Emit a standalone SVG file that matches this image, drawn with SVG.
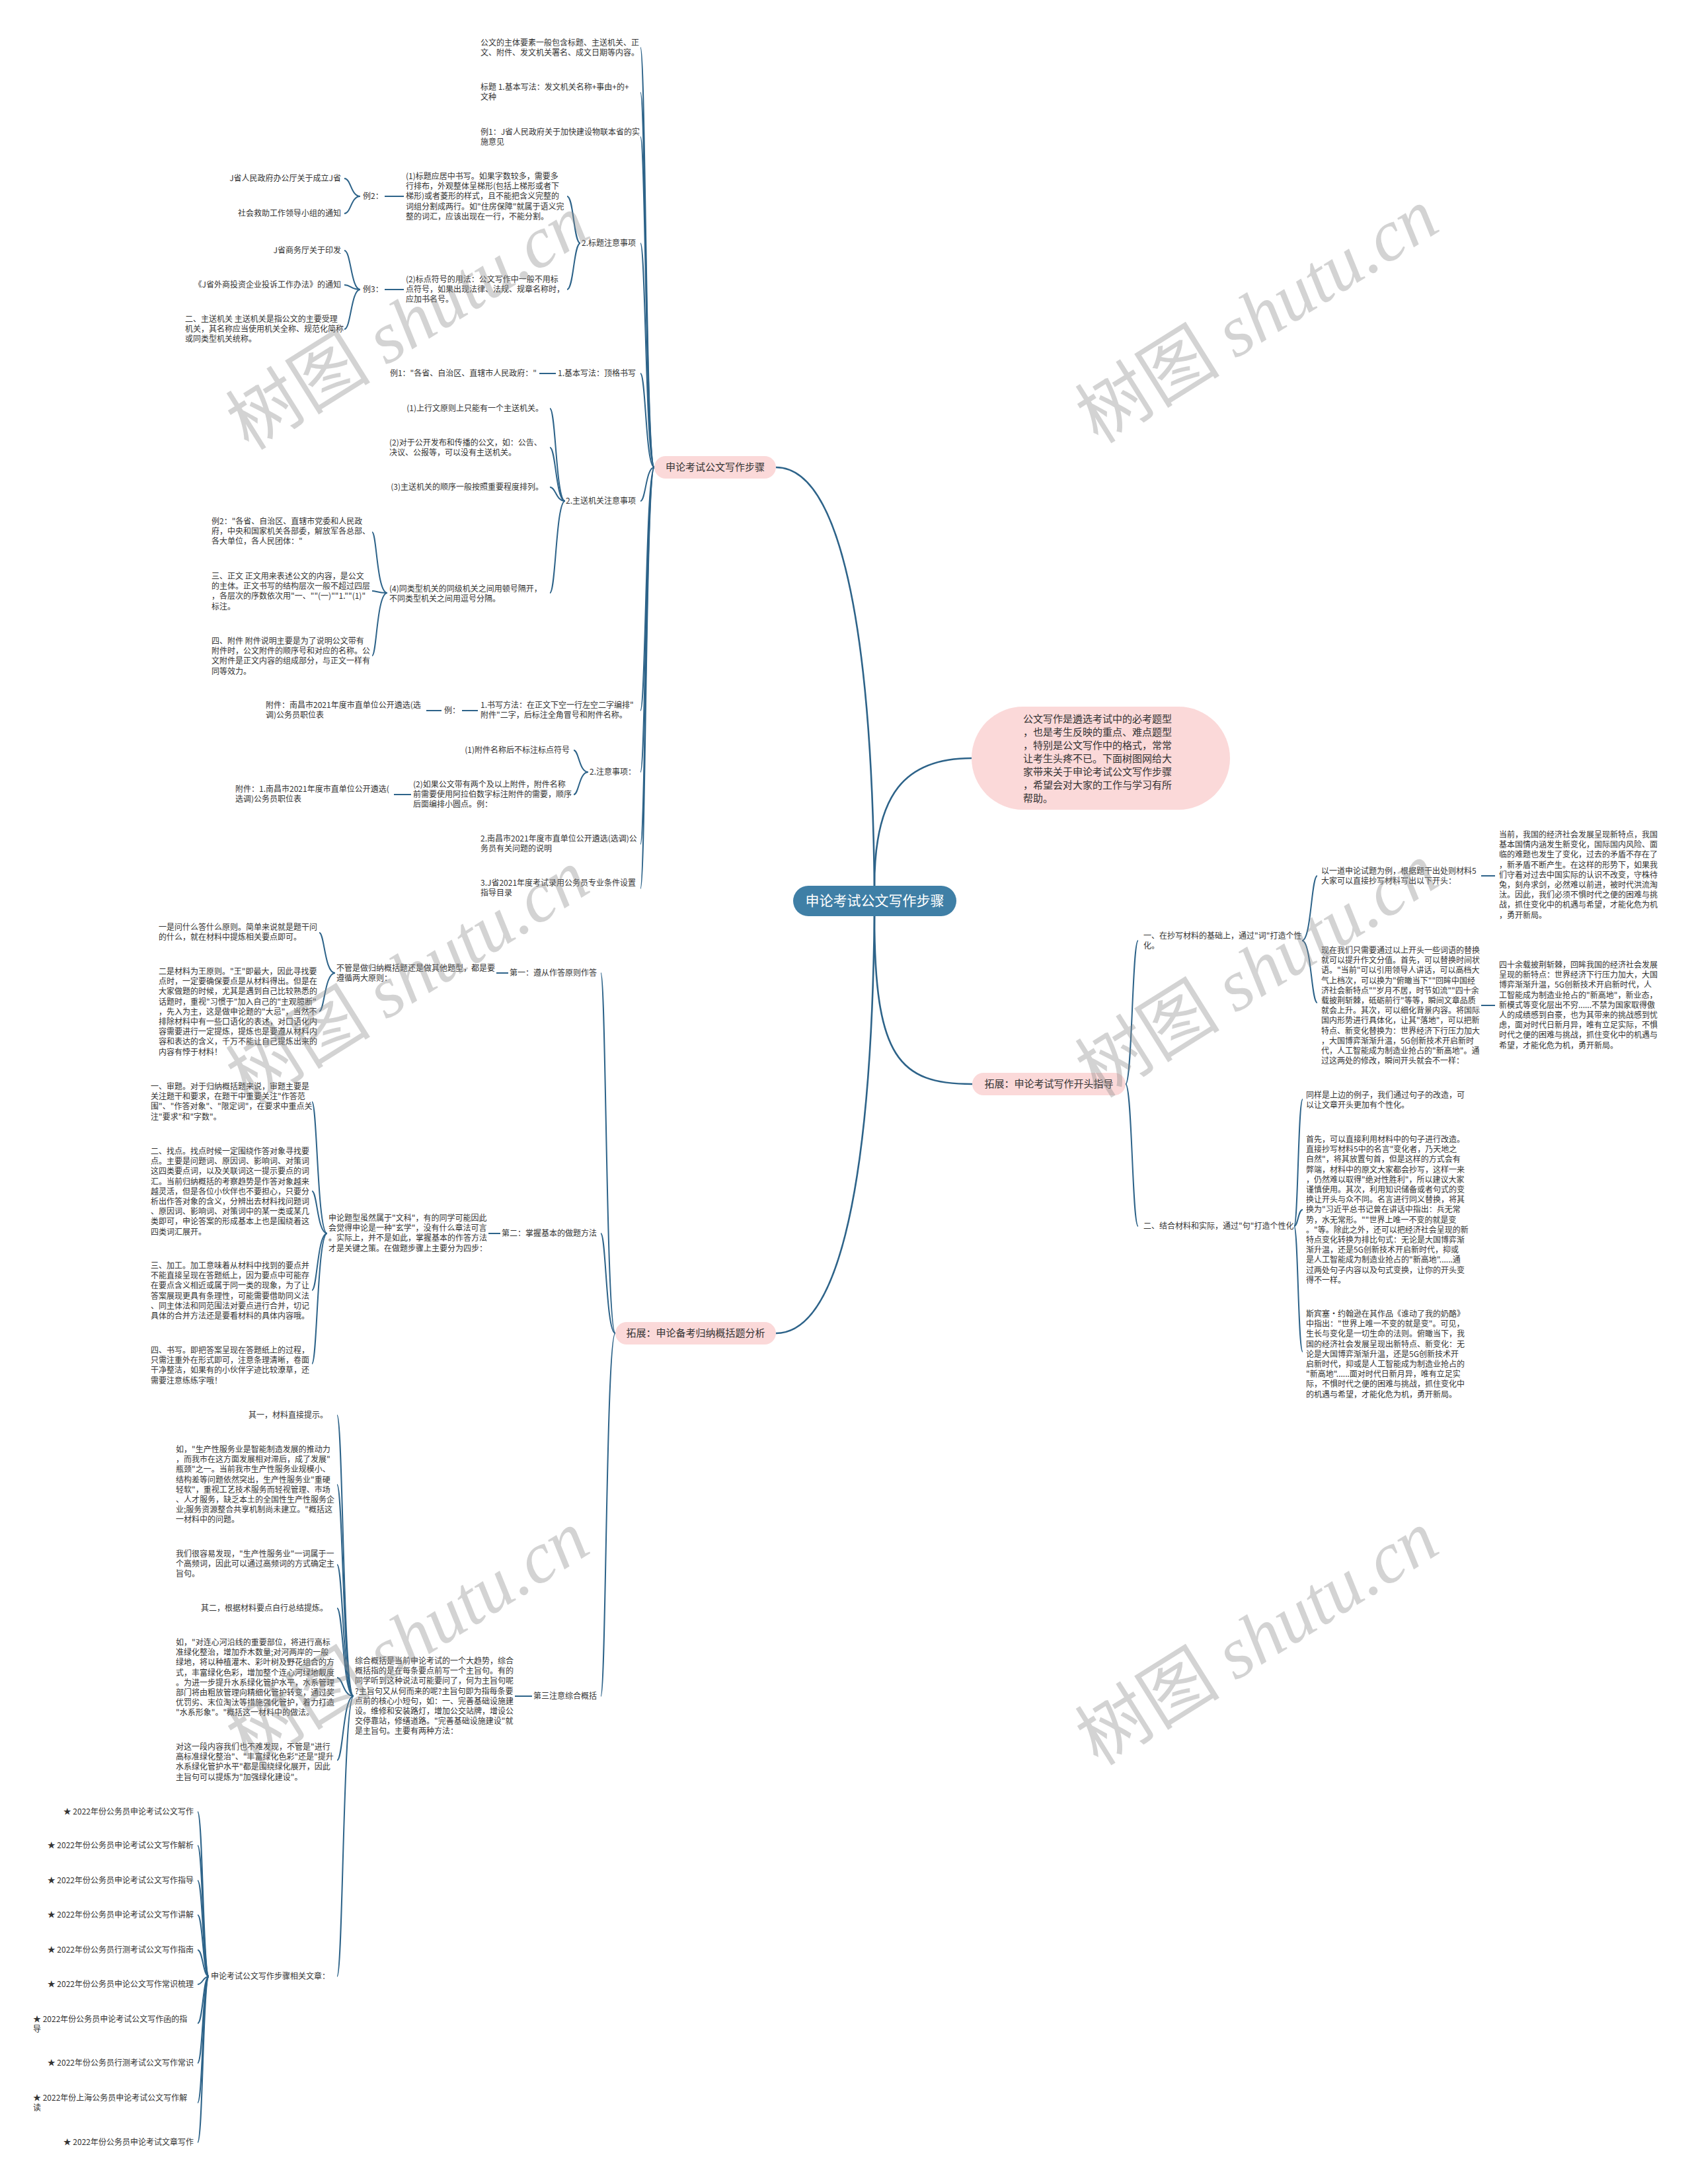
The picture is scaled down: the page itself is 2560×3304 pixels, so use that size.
<svg xmlns="http://www.w3.org/2000/svg" width="2560" height="3304" viewBox="0 0 2560 3304">
<style>
.t{font-family:"Noto Sans CJK SC","Liberation Sans",sans-serif;font-size:12px;fill:#333}
.e{text-anchor:end}
.c{fill:none;stroke:#2d6389;stroke-width:2}
.m{fill:none;stroke:#2d6389;stroke-width:2.6}
.pk{fill:#fbd9d9}
.pt{font-family:"Noto Sans CJK SC","Liberation Sans",sans-serif;font-size:15px;fill:#333;text-anchor:middle}
.it{font-family:"Noto Sans CJK SC","Liberation Sans",sans-serif;font-size:15px;fill:#333}
.rt{font-family:"Noto Sans CJK SC","Liberation Sans",sans-serif;font-size:21px;fill:#fff;text-anchor:middle}
.wm{font-family:"Noto Sans CJK SC","Liberation Sans",sans-serif;font-size:110px;fill:#8c8c8c;fill-opacity:0.38;text-anchor:middle}
.ws{font-family:"Liberation Serif",serif;font-style:italic}
</style>
<rect width="2560" height="3304" fill="#fff"/>
<g id="connectors">
<path class="m" d="M1323,1340 C1318,900 1260,707 1174,707"/>
<path class="m" d="M1323,1386 C1318,1830 1260,2017 1174,2017"/>
<path class="m" d="M1323,1340 C1323,1200 1370,1147 1470,1147"/>
<path class="m" d="M1323,1386 C1323,1600 1360,1640 1471,1640"/>
<path class="c" d="M990,707 C977,707 977,72 969,72"/>
<path class="c" d="M990,707 C977,707 977,140 969,140"/>
<path class="c" d="M990,707 C977,707 977,207 969,207"/>
<path class="c" d="M990,707 C977,707 977,368 969,368"/>
<path class="c" d="M990,707 C977,707 977,565 969,565"/>
<path class="c" d="M990,707 C977,707 977,758 969,758"/>
<path class="c" d="M990,707 C977,707 977,1075 969,1075"/>
<path class="c" d="M990,707 C977,707 977,1168 969,1168"/>
<path class="c" d="M990,707 C977,707 977,1277 969,1277"/>
<path class="c" d="M990,707 C977,707 977,1344 969,1344"/>
<path class="c" d="M878,368 C868,368 868,297 858,297"/>
<path class="c" d="M878,368 C868,368 868,438 858,438"/>
<path class="c" d="M611,297 H582"/>
<path class="c" d="M611,438 H582"/>
<path class="c" d="M545,297 C531,297 531,270 521,270"/>
<path class="c" d="M545,297 C531,297 531,323 521,323"/>
<path class="c" d="M545,438 C531,438 531,379 521,379"/>
<path class="c" d="M545,438 C531,438 531,431 521,431"/>
<path class="c" d="M545,438 C531,438 531,498 521,498"/>
<path class="c" d="M841,565 H816"/>
<path class="c" d="M855,758 C841,758 841,618 832,618"/>
<path class="c" d="M855,758 C841,758 841,677 832,677"/>
<path class="c" d="M855,758 C841,758 841,737 832,737"/>
<path class="c" d="M855,758 C841,758 841,897 832,897"/>
<path class="c" d="M586,897 C570,897 570,805 563,805"/>
<path class="c" d="M586,897 C570,897 570,894 563,894"/>
<path class="c" d="M586,897 C570,897 570,992 563,992"/>
<path class="c" d="M723,1075 H699"/>
<path class="c" d="M668,1075 H645"/>
<path class="c" d="M890,1168 C876,1168 876,1135 868,1135"/>
<path class="c" d="M890,1168 C876,1168 876,1202 868,1202"/>
<path class="c" d="M622,1202 H596"/>
<path class="c" d="M931,2017 C917,2017 917,1472 909,1472"/>
<path class="c" d="M931,2017 C917,2017 917,1866 909,1866"/>
<path class="c" d="M931,2017 C917,2017 917,2566 909,2566"/>
<path class="c" d="M769,1472 H751"/>
<path class="c" d="M507,1472 C491,1472 491,1411 483,1411"/>
<path class="c" d="M507,1472 C491,1472 491,1530 483,1530"/>
<path class="c" d="M757,1866 H739"/>
<path class="c" d="M495,1866 C480,1866 480,1667 472,1667"/>
<path class="c" d="M495,1866 C480,1866 480,1802 472,1802"/>
<path class="c" d="M495,1866 C480,1866 480,1952 472,1952"/>
<path class="c" d="M495,1866 C480,1866 480,2063 472,2063"/>
<path class="c" d="M805,2566 H779"/>
<path class="c" d="M535,2566 C519,2566 519,2141 510,2141"/>
<path class="c" d="M535,2566 C519,2566 519,2246 510,2246"/>
<path class="c" d="M535,2566 C519,2566 519,2367 510,2367"/>
<path class="c" d="M535,2566 C519,2566 519,2433 510,2433"/>
<path class="c" d="M535,2566 C519,2566 519,2538 510,2538"/>
<path class="c" d="M535,2566 C519,2566 519,2663 510,2663"/>
<path class="c" d="M535,2566 C519,2566 519,2990 510,2990"/>
<path class="c" d="M316,2990 C307,2990 307,2741 299,2741"/>
<path class="c" d="M316,2990 C307,2990 307,2792 299,2792"/>
<path class="c" d="M316,2990 C307,2990 307,2845 299,2845"/>
<path class="c" d="M316,2990 C307,2990 307,2897 299,2897"/>
<path class="c" d="M316,2990 C307,2990 307,2950 299,2950"/>
<path class="c" d="M316,2990 C307,2990 307,3002 299,3002"/>
<path class="c" d="M316,2990 C307,2990 307,3061 299,3061"/>
<path class="c" d="M316,2990 C307,2990 307,3121 299,3121"/>
<path class="c" d="M316,2990 C307,2990 307,3181 299,3181"/>
<path class="c" d="M316,2990 C307,2990 307,3241 299,3241"/>
<path class="c" d="M1703,1640 C1713,1640 1713,1423 1722,1423"/>
<path class="c" d="M1703,1640 C1713,1640 1713,1855 1722,1855"/>
<path class="c" d="M1970,1423 C1984,1423 1984,1325 1993,1325"/>
<path class="c" d="M1970,1423 C1984,1423 1984,1517 1993,1517"/>
<path class="c" d="M2241,1325 H2262"/>
<path class="c" d="M2241,1521 H2262"/>
<path class="c" d="M1958,1855 C1964,1855 1964,1663 1971,1663"/>
<path class="c" d="M1958,1855 C1964,1855 1964,1830 1971,1830"/>
<path class="c" d="M1958,1855 C1964,1855 1964,2045 1971,2045"/>
</g>
<g id="root"><rect x="1200" y="1340" width="247" height="46" rx="23" fill="#3f7fa6"/><text class="rt" x="1323.5" y="1370">申论考试公文写作步骤</text></g>
<g id="intro"><rect x="1470" y="1069" width="391" height="156" rx="78" class="pk"/>
<text class="it" x="1548" y="1093"><tspan x="1548">公文写作是遴选考试中的必考题型</tspan><tspan x="1548" dy="20">，也是考生反映的重点、难点题型</tspan><tspan x="1548" dy="20">，特别是公文写作中的格式，常常</tspan><tspan x="1548" dy="20">让考生头疼不已。下面树图网给大</tspan><tspan x="1548" dy="20">家带来关于申论考试公文写作步骤</tspan><tspan x="1548" dy="20">，希望会对大家的工作与学习有所</tspan><tspan x="1548" dy="20">帮助。</tspan></text></g>
<g id="b1"><rect x="990" y="690" width="184" height="34" rx="17" class="pk"/><text class="pt" x="1082" y="712">申论考试公文写作步骤</text></g>
<g id="b2"><rect x="1471" y="1623" width="232" height="34" rx="17" class="pk"/><text class="pt" x="1587" y="1645">拓展：申论考试写作开头指导</text></g>
<g id="b3"><rect x="931" y="2000" width="243" height="34" rx="17" class="pk"/><text class="pt" x="1052.5" y="2022">拓展：申论备考归纳概括题分析</text></g>

<g id="n1a"><text class="t" x="727" y="69"><tspan x="727">公文的主体要素一般包含标题、主送机关、正</tspan><tspan x="727" dy="15.2">文、附件、发文机关署名、成文日期等内容。</tspan></text></g>
<g id="n1b"><text class="t" x="727" y="136"><tspan x="727">标题 1.基本写法：发文机关名称+事由+的+</tspan><tspan x="727" dy="15.2">文种</tspan></text></g>
<g id="n1c"><text class="t" x="727" y="204"><tspan x="727">例1：J省人民政府关于加快建设物联本省的实</tspan><tspan x="727" dy="15.2">施意见</tspan></text></g>
<g id="n1d"><text class="t e" x="962" y="372">2.标题注意事项</text></g>
<g id="n1d1"><text class="t" x="614" y="271"><tspan x="614">(1)标题应居中书写。如果字数较多，需要多</tspan><tspan x="614" dy="15.2">行排布，外观整体呈梯形(包括上梯形或者下</tspan><tspan x="614" dy="15.2">梯形)或者菱形的样式，且不能把含义完整的</tspan><tspan x="614" dy="15.2">词组分割成两行。如"住房保障"就属于语义完</tspan><tspan x="614" dy="15.2">整的词汇，应该出现在一行，不能分割。</tspan></text></g>
<g id="n1d2"><text class="t" x="614" y="427"><tspan x="614">(2)标点符号的用法：公文写作中一般不用标</tspan><tspan x="614" dy="15.2">点符号，如果出现法律、法规、规章名称时，</tspan><tspan x="614" dy="15.2">应加书名号。</tspan></text></g>
<g id="n1d1x"><text class="t" x="549" y="301">例2：</text></g>
<g id="n1d2x"><text class="t" x="549" y="442">例3：</text></g>
<g id="n1d1xa"><text class="t e" x="516" y="274">J省人民政府办公厅关于成立J省</text></g>
<g id="n1d1xb"><text class="t e" x="516" y="327">社会救助工作领导小组的通知</text></g>
<g id="n1d2xa"><text class="t e" x="516" y="383">J省商务厅关于印发</text></g>
<g id="n1d2xb"><text class="t e" x="516" y="435">《J省外商投资企业投诉工作办法》的通知</text></g>
<g id="n1d2xc"><text class="t" x="280" y="487"><tspan x="280">二、主送机关 主送机关是指公文的主要受理</tspan><tspan x="280" dy="15.2">机关，其名称应当使用机关全称、规范化简称</tspan><tspan x="280" dy="15.2">或同类型机关统称。</tspan></text></g>
<g id="n1e"><text class="t e" x="962" y="569">1.基本写法：顶格书写</text></g>
<g id="n1e1"><text class="t e" x="812" y="569">例1："各省、自治区、直辖市人民政府："</text></g>
<g id="n1f"><text class="t e" x="962" y="762">2.主送机关注意事项</text></g>
<g id="n1f1"><text class="t e" x="822" y="622">(1)上行文原则上只能有一个主送机关。</text></g>
<g id="n1f2"><text class="t" x="589" y="674"><tspan x="589">(2)对于公开发布和传播的公文，如：公告、</tspan><tspan x="589" dy="15.2">决议、公报等，可以没有主送机关。</tspan></text></g>
<g id="n1f3"><text class="t e" x="822" y="741">(3)主送机关的顺序一般按照重要程度排列。</text></g>
<g id="n1f4"><text class="t" x="589" y="895"><tspan x="589">(4)同类型机关的同级机关之间用顿号隔开，</tspan><tspan x="589" dy="15.2">不同类型机关之间用逗号分隔。</tspan></text></g>
<g id="n1f4a"><text class="t" x="320" y="793"><tspan x="320">例2："各省、自治区、直辖市党委和人民政</tspan><tspan x="320" dy="15.2">府，中央和国家机关各部委，解放军各总部、</tspan><tspan x="320" dy="15.2">各大单位，各人民团体："</tspan></text></g>
<g id="n1f4b"><text class="t" x="320" y="876"><tspan x="320">三、正文 正文用来表述公文的内容，是公文</tspan><tspan x="320" dy="15.2">的主体。正文书写的结构层次一般不超过四层</tspan><tspan x="320" dy="15.2">，各层次的序数依次用"一、""(一)""1.""(1)"</tspan><tspan x="320" dy="15.2">标注。</tspan></text></g>
<g id="n1f4c"><text class="t" x="320" y="974"><tspan x="320">四、附件 附件说明主要是为了说明公文带有</tspan><tspan x="320" dy="15.2">附件时，公文附件的顺序号和对应的名称。公</tspan><tspan x="320" dy="15.2">文附件是正文内容的组成部分，与正文一样有</tspan><tspan x="320" dy="15.2">同等效力。</tspan></text></g>
<g id="n1g"><text class="t" x="727" y="1071"><tspan x="727">1.书写方法：在正文下空一行左空二字编排"</tspan><tspan x="727" dy="15.2">附件"二字，后标注全角冒号和附件名称。</tspan></text></g>
<g id="n1g1"><text class="t" x="672" y="1079">例：</text></g>
<g id="n1g2"><text class="t" x="402" y="1071"><tspan x="402">附件：南昌市2021年度市直单位公开遴选(选</tspan><tspan x="402" dy="15.2">调)公务员职位表</tspan></text></g>
<g id="n1h"><text class="t e" x="962" y="1172">2.注意事项：</text></g>
<g id="n1h1"><text class="t e" x="862" y="1139">(1)附件名称后不标注标点符号</text></g>
<g id="n1h2"><text class="t" x="625" y="1191"><tspan x="625">(2)如果公文带有两个及以上附件，附件名称</tspan><tspan x="625" dy="15.2">前需要使用阿拉伯数字标注附件的需要，顺序</tspan><tspan x="625" dy="15.2">后面编排小圆点。例：</tspan></text></g>
<g id="n1h2a"><text class="t" x="356" y="1198"><tspan x="356">附件：1.南昌市2021年度市直单位公开遴选(</tspan><tspan x="356" dy="15.2">选调)公务员职位表</tspan></text></g>
<g id="n1i"><text class="t" x="727" y="1273"><tspan x="727">2.南昌市2021年度市直单位公开遴选(选调)公</tspan><tspan x="727" dy="15.2">务员有关问题的说明</tspan></text></g>
<g id="n1j"><text class="t" x="727" y="1340"><tspan x="727">3.J省2021年度考试录用公务员专业条件设置</tspan><tspan x="727" dy="15.2">指导目录</tspan></text></g>

<g id="n3a"><text class="t e" x="903" y="1476">第一：遵从作答原则作答</text></g>
<g id="n3a1"><text class="t" x="509" y="1469"><tspan x="509">不管是做归纳概括题还是做其他题型，都是要</tspan><tspan x="509" dy="15.2">遵循两大原则：</tspan></text></g>
<g id="n3a1a"><text class="t" x="240" y="1407"><tspan x="240">一是问什么答什么原则。简单来说就是题干问</tspan><tspan x="240" dy="15.2">的什么，就在材料中提炼相关要点即可。</tspan></text></g>
<g id="n3a1b"><text class="t" x="240" y="1474"><tspan x="240">二是材料为王原则。"王"即最大，因此寻找要</tspan><tspan x="240" dy="15.2">点时，一定要确保要点是从材料得出。但是在</tspan><tspan x="240" dy="15.2">大家做题的时候，尤其是遇到自己比较熟悉的</tspan><tspan x="240" dy="15.2">话题时，重视"习惯于"加入自己的"主观臆断"</tspan><tspan x="240" dy="15.2">，先入为主，这是做申论题的"大忌"，当然不</tspan><tspan x="240" dy="15.2">排除材料中有一些口语化的表述，对口语化内</tspan><tspan x="240" dy="15.2">容需要进行一定提炼，提炼也是要遵从材料内</tspan><tspan x="240" dy="15.2">容和表达的含义，千万不能让自己提炼出来的</tspan><tspan x="240" dy="15.2">内容有悖于材料！</tspan></text></g>
<g id="n3b"><text class="t e" x="903" y="1870">第二：掌握基本的做题方法</text></g>
<g id="n3b1"><text class="t" x="497" y="1847"><tspan x="497">申论题型虽然属于"文科"，有的同学可能因此</tspan><tspan x="497" dy="15.2">会觉得申论是一种"玄学"，没有什么章法可言</tspan><tspan x="497" dy="15.2">。实际上，并不是如此，掌握基本的作答方法</tspan><tspan x="497" dy="15.2">才是关键之策。在做题步骤上主要分为四步：</tspan></text></g>
<g id="n3b1a"><text class="t" x="228" y="1648"><tspan x="228">一、审题。对于归纳概括题来说，审题主要是</tspan><tspan x="228" dy="15.2">关注题干和要求，在题干中重要关注"作答范</tspan><tspan x="228" dy="15.2">围"、"作答对象"、"限定词"，在要求中重点关</tspan><tspan x="228" dy="15.2">注"要求"和"字数"。</tspan></text></g>
<g id="n3b1b"><text class="t" x="228" y="1746"><tspan x="228">二、找点。找点时候一定围绕作答对象寻找要</tspan><tspan x="228" dy="15.2">点。主要是问题词、原因词、影响词、对策词</tspan><tspan x="228" dy="15.2">这四类要点词，以及关联词这一提示要点的词</tspan><tspan x="228" dy="15.2">汇。当前归纳概括的考察趋势是作答对象越来</tspan><tspan x="228" dy="15.2">越灵活，但是各位小伙伴也不要担心，只要分</tspan><tspan x="228" dy="15.2">析出作答对象的含义，分辨出去材料找问题词</tspan><tspan x="228" dy="15.2">、原因词、影响词、对策词中的某一类或某几</tspan><tspan x="228" dy="15.2">类即可，申论答案的形成基本上也是围绕着这</tspan><tspan x="228" dy="15.2">四类词汇展开。</tspan></text></g>
<g id="n3b1c"><text class="t" x="228" y="1919"><tspan x="228">三、加工。加工意味着从材料中找到的要点并</tspan><tspan x="228" dy="15.2">不能直接呈现在答题纸上，因为要点中可能存</tspan><tspan x="228" dy="15.2">在要点含义相近或属于同一类的现象，为了让</tspan><tspan x="228" dy="15.2">答案展现更具有条理性，可能需要借助同义法</tspan><tspan x="228" dy="15.2">、同主体法和同范围法对要点进行合并，切记</tspan><tspan x="228" dy="15.2">具体的合并方法还是要看材料的具体内容哦。</tspan></text></g>
<g id="n3b1d"><text class="t" x="228" y="2047"><tspan x="228">四、书写。即把答案呈现在答题纸上的过程，</tspan><tspan x="228" dy="15.2">只需注重外在形式即可，注意条理清晰，卷面</tspan><tspan x="228" dy="15.2">干净整洁，如果有的小伙伴字迹比较潦草，还</tspan><tspan x="228" dy="15.2">需要注意练练字哦！</tspan></text></g>
<g id="n3c"><text class="t e" x="903" y="2570">第三注意综合概括</text></g>
<g id="n3c1"><text class="t" x="537" y="2517"><tspan x="537">综合概括是当前申论考试的一个大趋势，综合</tspan><tspan x="537" dy="15.2">概括指的是在每条要点前写一个主旨句。有的</tspan><tspan x="537" dy="15.2">同学听到这种说法可能要问了，何为主旨句呢</tspan><tspan x="537" dy="15.2">?主旨句又从何而来的呢?主旨句即为指每条要</tspan><tspan x="537" dy="15.2">点前的核心小短句，如：一、完善基础设施建</tspan><tspan x="537" dy="15.2">设。维修和安装路灯，增加公交站牌，增设公</tspan><tspan x="537" dy="15.2">交停靠站，修缮道路。"完善基础设施建设"就</tspan><tspan x="537" dy="15.2">是主旨句。主要有两种方法：</tspan></text></g>
<g id="n3c1a"><text class="t e" x="496" y="2145">其一，材料直接提示。</text></g>
<g id="n3c1b"><text class="t" x="266" y="2197"><tspan x="266">如，"生产性服务业是智能制造发展的推动力</tspan><tspan x="266" dy="15.2">，而我市在这方面发展相对滞后，成了发展"</tspan><tspan x="266" dy="15.2">瓶颈"之一。当前我市生产性服务业规模小、</tspan><tspan x="266" dy="15.2">结构差等问题依然突出，生产性服务业"重硬</tspan><tspan x="266" dy="15.2">轻软"，重视工艺技术服务而轻视管理、市场</tspan><tspan x="266" dy="15.2">、人才服务，缺乏本土的全国性生产性服务企</tspan><tspan x="266" dy="15.2">业;服务资源整合共享机制尚未建立。"概括这</tspan><tspan x="266" dy="15.2">一材料中的问题。</tspan></text></g>
<g id="n3c1c"><text class="t" x="266" y="2355"><tspan x="266">我们很容易发现，"生产性服务业"一词属于一</tspan><tspan x="266" dy="15.2">个高频词，因此可以通过高频词的方式确定主</tspan><tspan x="266" dy="15.2">旨句。</tspan></text></g>
<g id="n3c1d"><text class="t e" x="496" y="2437">其二，根据材料要点自行总结提炼。</text></g>
<g id="n3c1e"><text class="t" x="266" y="2489"><tspan x="266">如，"对连心河沿线的重要部位，将进行高标</tspan><tspan x="266" dy="15.2">准绿化整治，增加乔木数量;对河两岸的一般</tspan><tspan x="266" dy="15.2">绿地，将以种植灌木、彩叶树及野花组合的方</tspan><tspan x="266" dy="15.2">式，丰富绿化色彩，增加整个连心河绿地靓度</tspan><tspan x="266" dy="15.2">。为进一步提升水系绿化管护水平，水系管理</tspan><tspan x="266" dy="15.2">部门将由粗放管理向精细化管护转变，通过奖</tspan><tspan x="266" dy="15.2">优罚劣、末位淘汰等措施强化管护，着力打造</tspan><tspan x="266" dy="15.2">"水系形象"。"概括这一材料中的做法。</tspan></text></g>
<g id="n3c1f"><text class="t" x="266" y="2647"><tspan x="266">对这一段内容我们也不难发现，不管是"进行</tspan><tspan x="266" dy="15.2">高标准绿化整治"、"丰富绿化色彩"还是"提升</tspan><tspan x="266" dy="15.2">水系绿化管护水平"都是围绕绿化展开，因此</tspan><tspan x="266" dy="15.2">主旨句可以提炼为"加强绿化建设"。</tspan></text></g>
<g id="n3c1g"><text class="t e" x="499" y="2994">申论考试公文写作步骤相关文章：</text></g>
<g id="a1"><text class="t e" x="293" y="2745">★ 2022年份公务员申论考试公文写作</text></g>
<g id="a2"><text class="t e" x="293" y="2796">★ 2022年份公务员申论考试公文写作解析</text></g>
<g id="a3"><text class="t e" x="293" y="2849">★ 2022年份公务员申论考试公文写作指导</text></g>
<g id="a4"><text class="t e" x="293" y="2901">★ 2022年份公务员申论考试公文写作讲解</text></g>
<g id="a5"><text class="t e" x="293" y="2954">★ 2022年份公务员行测考试公文写作指南</text></g>
<g id="a6"><text class="t e" x="293" y="3006">★ 2022年份公务员申论公文写作常识梳理</text></g>
<g id="a7"><text class="t" x="50" y="3059"><tspan x="50">★ 2022年份公务员申论考试公文写作函的指</tspan><tspan x="50" dy="15.2">导</tspan></text></g>
<g id="a8"><text class="t e" x="293" y="3125">★ 2022年份公务员行测考试公文写作常识</text></g>
<g id="a9"><text class="t" x="50" y="3178"><tspan x="50">★ 2022年份上海公务员申论考试公文写作解</tspan><tspan x="50" dy="15.2">读</tspan></text></g>
<g id="a10"><text class="t e" x="293" y="3245">★ 2022年份公务员申论考试文章写作</text></g>

<g id="n2a"><text class="t" x="1730" y="1420"><tspan x="1730">一、在抄写材料的基础上，通过"词"打造个性</tspan><tspan x="1730" dy="15.2">化。</tspan></text></g>
<g id="n2a1"><text class="t" x="1999" y="1322"><tspan x="1999">以一道申论试题为例，根据题干出处则材料5</tspan><tspan x="1999" dy="15.2">大家可以直接抄写材料写出以下开头：</tspan></text></g>
<g id="n2a1a"><text class="t" x="2268" y="1267"><tspan x="2268">当前，我国的经济社会发展呈现新特点，我国</tspan><tspan x="2268" dy="15.2">基本国情内涵发生新变化，国际国内风险、面</tspan><tspan x="2268" dy="15.2">临的难题也发生了变化，过去的矛盾不存在了</tspan><tspan x="2268" dy="15.2">，新矛盾不断产生。在这样的形势下，如果我</tspan><tspan x="2268" dy="15.2">们守着对过去中国实际的认识不改变，守株待</tspan><tspan x="2268" dy="15.2">兔，刻舟求剑，必然难以前进，被时代洪流淘</tspan><tspan x="2268" dy="15.2">汰。因此，我们必须不惧时代之便的困难与挑</tspan><tspan x="2268" dy="15.2">战，抓住变化中的机遇与希望，才能化危为机</tspan><tspan x="2268" dy="15.2">，勇开新局。</tspan></text></g>
<g id="n2a2"><text class="t" x="1999" y="1442"><tspan x="1999">现在我们只需要通过以上开头一些词语的替换</tspan><tspan x="1999" dy="15.2">就可以提升作文分值。首先，可以替换时间状</tspan><tspan x="1999" dy="15.2">语。"当前"可以引用领导人讲话，可以高档大</tspan><tspan x="1999" dy="15.2">气上档次，可以换为"俯瞰当下""回眸中国经</tspan><tspan x="1999" dy="15.2">济社会新特点""岁月不居，时节如流""四十余</tspan><tspan x="1999" dy="15.2">载披荆斩棘，砥砺前行"等等，瞬间文章品质</tspan><tspan x="1999" dy="15.2">就会上升。其次，可以细化背景内容。将国际</tspan><tspan x="1999" dy="15.2">国内形势进行具体化，让其"落地"，可以把新</tspan><tspan x="1999" dy="15.2">特点、新变化替换为：世界经济下行压力加大</tspan><tspan x="1999" dy="15.2">，大国博弈渐渐升温，5G创新技术开启新时</tspan><tspan x="1999" dy="15.2">代，人工智能成为制造业抢占的"新高地"。通</tspan><tspan x="1999" dy="15.2">过这两处的修改，瞬间开头就会不一样：</tspan></text></g>
<g id="n2a2a"><text class="t" x="2268" y="1464"><tspan x="2268">四十余载披荆斩棘，回眸我国的经济社会发展</tspan><tspan x="2268" dy="15.2">呈现的新特点：世界经济下行压力加大，大国</tspan><tspan x="2268" dy="15.2">博弈渐渐升温，5G创新技术开启新时代，人</tspan><tspan x="2268" dy="15.2">工智能成为制造业抢占的"新高地"，新业态，</tspan><tspan x="2268" dy="15.2">新模式等变化层出不穷......不禁为国家取得傲</tspan><tspan x="2268" dy="15.2">人的成绩感到自豪，也为其带来的挑战感到忧</tspan><tspan x="2268" dy="15.2">虑，面对时代日新月异，唯有立足实际，不惧</tspan><tspan x="2268" dy="15.2">时代之便的困难与挑战，抓住变化中的机遇与</tspan><tspan x="2268" dy="15.2">希望，才能化危为机，勇开新局。</tspan></text></g>
<g id="n2b"><text class="t" x="1730" y="1859">二、结合材料和实际，通过"句"打造个性化</text></g>
<g id="n2b1"><text class="t" x="1976" y="1661"><tspan x="1976">同样是上边的例子，我们通过句子的改造，可</tspan><tspan x="1976" dy="15.2">以让文章开头更加有个性化。</tspan></text></g>
<g id="n2b2"><text class="t" x="1976" y="1728"><tspan x="1976">首先，可以直接利用材料中的句子进行改造。</tspan><tspan x="1976" dy="15.2">直接抄写材料5中的名言"变化者，乃天地之</tspan><tspan x="1976" dy="15.2">自然"，将其放置句首，但是这样的方式会有</tspan><tspan x="1976" dy="15.2">弊端，材料中的原文大家都会抄写，这样一来</tspan><tspan x="1976" dy="15.2">，仍然难以取得"绝对性胜利"，所以建议大家</tspan><tspan x="1976" dy="15.2">谨慎使用。其次，利用知识储备或者句式的变</tspan><tspan x="1976" dy="15.2">换让开头与众不同。名言进行同义替换，将其</tspan><tspan x="1976" dy="15.2">换为"习近平总书记曾在讲话中指出：兵无常</tspan><tspan x="1976" dy="15.2">势，水无常形。""世界上唯一不变的就是变</tspan><tspan x="1976" dy="15.2">。"等。除此之外，还可以把经济社会呈现的新</tspan><tspan x="1976" dy="15.2">特点变化转换为排比句式：无论是大国博弈渐</tspan><tspan x="1976" dy="15.2">渐升温，还是5G创新技术开启新时代，抑或</tspan><tspan x="1976" dy="15.2">是人工智能成为制造业抢占的"新高地"......通</tspan><tspan x="1976" dy="15.2">过两处句子内容以及句式变换，让你的开头变</tspan><tspan x="1976" dy="15.2">得不一样。</tspan></text></g>
<g id="n2b3"><text class="t" x="1976" y="1992"><tspan x="1976">斯宾塞·约翰逊在其作品《谁动了我的奶酪》</tspan><tspan x="1976" dy="15.2">中指出："世界上唯一不变的就是变"。可见，</tspan><tspan x="1976" dy="15.2">生长与变化是一切生命的法则。俯瞰当下，我</tspan><tspan x="1976" dy="15.2">国的经济社会发展呈现出新特点、新变化：无</tspan><tspan x="1976" dy="15.2">论是大国博弈渐渐升温，还是5G创新技术开</tspan><tspan x="1976" dy="15.2">启新时代，抑或是人工智能成为制造业抢占的</tspan><tspan x="1976" dy="15.2">"新高地"......面对时代日新月异，唯有立足实</tspan><tspan x="1976" dy="15.2">际，不惧时代之便的困难与挑战，抓住变化中</tspan><tspan x="1976" dy="15.2">的机遇与希望，才能化危为机，勇开新局。</tspan></text></g>

<g id="watermarks">
<text class="wm" transform="translate(637,520) rotate(-32)">树图 <tspan class="ws">shutu.cn</tspan></text>
<text class="wm" transform="translate(1922,510) rotate(-32)">树图 <tspan class="ws">shutu.cn</tspan></text>
<text class="wm" transform="translate(637,1510) rotate(-32)">树图 <tspan class="ws">shutu.cn</tspan></text>
<text class="wm" transform="translate(1922,1500) rotate(-32)">树图 <tspan class="ws">shutu.cn</tspan></text>
<text class="wm" transform="translate(637,2510) rotate(-32)">树图 <tspan class="ws">shutu.cn</tspan></text>
<text class="wm" transform="translate(1922,2510) rotate(-32)">树图 <tspan class="ws">shutu.cn</tspan></text>
</g>
</svg>
